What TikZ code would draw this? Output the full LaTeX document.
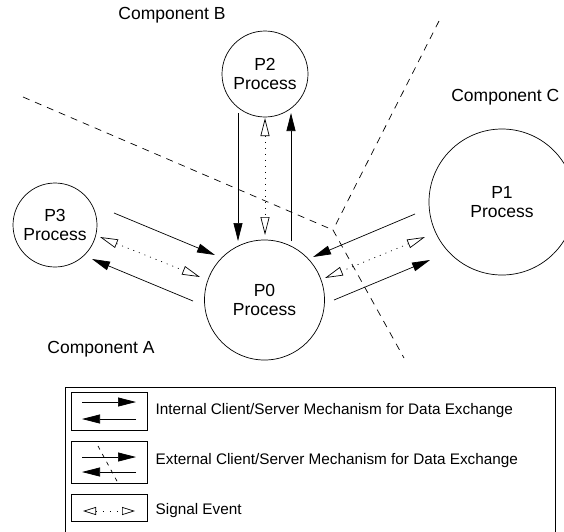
\documentclass[tikz,border=0pt]{standalone}
\usepackage{fontspec}
\setmainfont{Liberation Sans}
\usetikzlibrary{arrows.meta}

\begin{document}
\begin{tikzpicture}[x=1pt,y=-1pt,line width=0.7pt,
    >={Triangle[length=18pt,width=9pt]}]
\tikzstyle{proc}=[circle,draw,inner sep=0pt,align=center,font=\fontsize{17.5}{19.5}\selectfont]
\tikzstyle{comp}=[font=\fontsize{17.5}{20}\selectfont]
\tikzstyle{signal}=[{Triangle[open,length=18pt,width=9pt]}-{Triangle[open,length=18pt,width=9pt]},dash pattern=on 1pt off 5pt]
\tikzstyle{smallsignal}=[{Triangle[open,length=13pt,width=8pt]}-{Triangle[open,length=13pt,width=8pt]},dash pattern=on 1pt off 6pt]
\tikzstyle{border}=[dash pattern=on 7pt off 6pt]
\tikzstyle{legbox}=[draw,minimum width=76pt,inner sep=0pt]
\tikzstyle{legtext}=[anchor=west,font=\fontsize{15.3}{18}\selectfont]

\useasboundingbox (0,0) rectangle (564,531);

\node[proc,minimum size=86pt]  (P2) at (265,74)    {P2\\Process};
\node[proc,minimum size=84pt]  (P3) at (55,225)    {P3\\Process};
\node[proc,minimum size=120pt] (P0) at (264.5,300) {P0\\Process};
\node[proc,minimum size=146pt] (P1) at (502,202)   {P1\\Process};

\node[comp] (CB) at (172,15) {Component B};
\node[comp,anchor=east] (CC) at (563,97) {Component C};
\node[comp] (CA) at (101,349) {Component A};

% end points of the exchanges
\foreach \n/\x/\y in {d1/238/113, d2/238/241, s1/265/118, s2/265/235, u1/291/241, u2/291/113,
    a1/114/213, a2/215/255, a3/100/237, a4/200/277, a5/193/301, a6/92/259,
    c1/415/214, c2/313/257, c3/425/237, c4/325/278, c5/334/300, c6/430/260,
    Y/333/230, bA/23/97, bB/439/21, bC/404/358}
  \coordinate (\n) at (\x,\y);

% component borders
\draw[border] (bA) -- (Y) (bB) -- (Y) (Y) -- (bC);

\draw[->] (d1) -- (d2);
\draw[signal] (s1) -- (s2);
\draw[->] (u1) -- (u2);
\draw[->] (a1) -- (a2);
\draw[signal] (a3) -- (a4);
\draw[->] (a5) -- (a6);
\draw[->] (c1) -- (c2);
\draw[signal] (c3) -- (c4);
\draw[->] (c5) -- (c6);

% legend
\draw (65,387) rectangle (555,540);
\node[legbox,minimum height=38pt] (L1) at (109,411)   {};
\node[legbox,minimum height=42pt] (L2) at (109,462)   {};
\node[legbox,minimum height=27pt] (L3) at (109,507.5) {};

\foreach \n/\x/\y in {l1/82/402, l2/136/402, l3/136/419, l4/82/419,
    m1/82/457, m2/136/457, m3/136/472, m4/82/472, m5/98/446, m6/118/483,
    n1/83/511, n2/135/511}
  \coordinate (\n) at (\x,\y);

\draw[->] (l1) -- (l2);
\draw[->] (l3) -- (l4);
\draw[->] (m1) -- (m2);
\draw[->] (m3) -- (m4);
\draw[border,dash pattern=on 4pt off 5pt] (m5) -- (m6);
\draw[smallsignal] (n1) -- (n2);

\node[legtext] (T1) at (152,411) {Internal Client/Server Mechanism for Data Exchange};
\node[legtext] (T2) at (152,461) {External Client/Server Mechanism for Data Exchange};
\node[legtext] (T3) at (152,511) {Signal Event};
\end{tikzpicture}
\end{document}
